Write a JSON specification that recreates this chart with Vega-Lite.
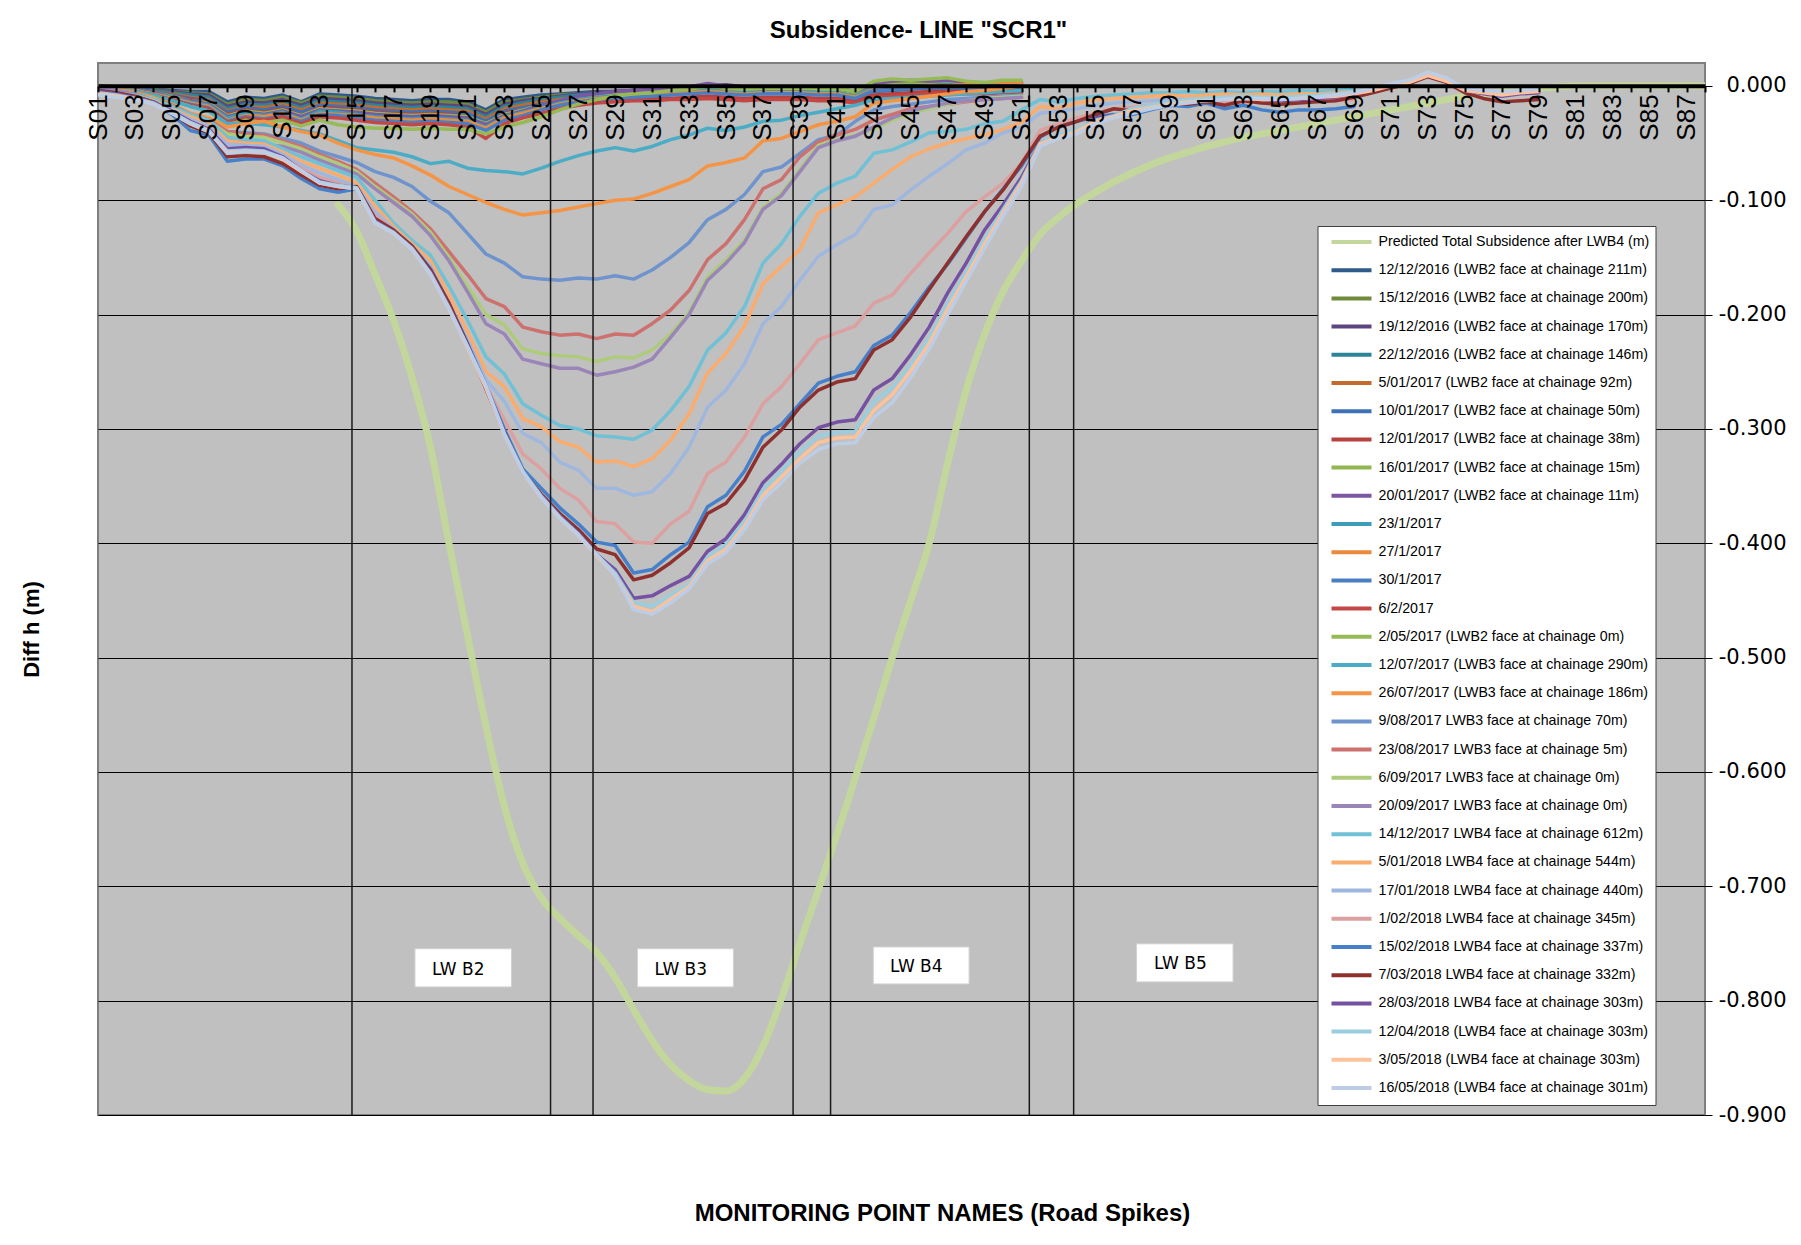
{
"$schema":"https://vega.github.io/schema/vega-lite/v6.json",
"width":1607,"height":1052,
"autosize":{"type":"none"},
"padding":{"left":98,"top":63,"right":96,"bottom":130},
"background":"white",
"config":{"view":{"fill":"#C0C0C0","stroke":"#7F7F7F","strokeWidth":2}},
"title":{"text":"Subsidence-  LINE \"SCR1\"","frame":"group","anchor":"middle","dx":17,"offset":8,"baseline":"middle","font":"Liberation Sans","fontSize":24,"fontWeight":"bold","color":"black"},
"datasets":{
"series":[
{"k":0,"p":14,"v":-0.104},{"k":0,"p":15,"v":-0.127},{"k":0,"p":16,"v":-0.165},{"k":0,"p":17,"v":-0.205},{"k":0,"p":18,"v":-0.255},{"k":0,"p":19,"v":-0.316},{"k":0,"p":20,"v":-0.4},{"k":0,"p":21,"v":-0.48},{"k":0,"p":22,"v":-0.56},{"k":0,"p":23,"v":-0.63},{"k":0,"p":24,"v":-0.68},{"k":0,"p":25,"v":-0.71},{"k":0,"p":26,"v":-0.728},{"k":0,"p":27,"v":-0.743},{"k":0,"p":28,"v":-0.758},{"k":0,"p":29,"v":-0.78},{"k":0,"p":30,"v":-0.808},{"k":0,"p":31,"v":-0.835},{"k":0,"p":32,"v":-0.856},{"k":0,"p":33,"v":-0.87},{"k":0,"p":34,"v":-0.878},{"k":0,"p":35,"v":-0.879},{"k":0,"p":36,"v":-0.868},{"k":0,"p":37,"v":-0.84},{"k":0,"p":38,"v":-0.798},{"k":0,"p":39,"v":-0.75},{"k":0,"p":40,"v":-0.703},{"k":0,"p":41,"v":-0.655},{"k":0,"p":42,"v":-0.605},{"k":0,"p":43,"v":-0.553},{"k":0,"p":44,"v":-0.5},{"k":0,"p":45,"v":-0.45},{"k":0,"p":46,"v":-0.4},{"k":0,"p":47,"v":-0.33},{"k":0,"p":48,"v":-0.266},{"k":0,"p":49,"v":-0.217},{"k":0,"p":50,"v":-0.18},{"k":0,"p":51,"v":-0.153},{"k":0,"p":52,"v":-0.13},{"k":0,"p":53,"v":-0.115},{"k":0,"p":54,"v":-0.103},{"k":0,"p":55,"v":-0.093},{"k":0,"p":56,"v":-0.084},{"k":0,"p":57,"v":-0.076},{"k":0,"p":58,"v":-0.069},{"k":0,"p":59,"v":-0.063},{"k":0,"p":60,"v":-0.058},{"k":0,"p":61,"v":-0.053},{"k":0,"p":62,"v":-0.049},{"k":0,"p":63,"v":-0.045},{"k":0,"p":64,"v":-0.042},{"k":0,"p":65,"v":-0.039},{"k":0,"p":66,"v":-0.036},{"k":0,"p":67,"v":-0.033},{"k":0,"p":68,"v":-0.03},{"k":0,"p":69,"v":-0.027},{"k":0,"p":70,"v":-0.024},{"k":0,"p":71,"v":-0.021},{"k":0,"p":72,"v":-0.018},{"k":0,"p":73,"v":-0.015},{"k":0,"p":74,"v":-0.012},{"k":0,"p":75,"v":-0.009},{"k":0,"p":76,"v":-0.007},{"k":0,"p":77,"v":-0.005},{"k":0,"p":78,"v":-0.003},{"k":0,"p":79,"v":-0.002},{"k":0,"p":80,"v":-0.001},{"k":0,"p":81,"v":0},{"k":0,"p":82,"v":0},{"k":0,"p":83,"v":0},{"k":0,"p":84,"v":0},{"k":0,"p":85,"v":0},{"k":0,"p":86,"v":0},{"k":0,"p":87,"v":0},{"k":0,"p":88,"v":0},
{"k":1,"p":1,"v":0},{"k":1,"p":2,"v":-0.001},{"k":1,"p":3,"v":-0.002},{"k":1,"p":4,"v":-0.003},{"k":1,"p":5,"v":-0.004},{"k":1,"p":6,"v":-0.005},{"k":1,"p":7,"v":-0.005},{"k":1,"p":8,"v":-0.014},{"k":1,"p":9,"v":-0.01},{"k":1,"p":10,"v":-0.011},{"k":1,"p":11,"v":-0.008},{"k":1,"p":12,"v":-0.014},{"k":1,"p":13,"v":-0.007},{"k":1,"p":14,"v":-0.008},{"k":1,"p":15,"v":-0.009},{"k":1,"p":16,"v":-0.011},{"k":1,"p":17,"v":-0.012},{"k":1,"p":18,"v":-0.013},{"k":1,"p":19,"v":-0.012},{"k":1,"p":20,"v":-0.012},{"k":1,"p":21,"v":-0.014},{"k":1,"p":22,"v":-0.021},{"k":1,"p":23,"v":-0.012},{"k":1,"p":24,"v":-0.01},{"k":1,"p":25,"v":-0.008},{"k":1,"p":26,"v":-0.007},{"k":1,"p":27,"v":-0.006},{"k":1,"p":28,"v":-0.005},{"k":1,"p":29,"v":-0.005},{"k":1,"p":30,"v":-0.004},{"k":1,"p":31,"v":-0.004},{"k":1,"p":32,"v":-0.003},{"k":1,"p":33,"v":-0.003},{"k":1,"p":34,"v":-0.002},{"k":1,"p":35,"v":-0.003},{"k":1,"p":36,"v":-0.004},{"k":1,"p":37,"v":-0.003},{"k":1,"p":38,"v":-0.003},{"k":1,"p":39,"v":-0.003},{"k":1,"p":40,"v":-0.004},{"k":1,"p":41,"v":-0.004},{"k":1,"p":42,"v":-0.006},{"k":1,"p":43,"v":-0.002},{"k":1,"p":44,"v":-0.001},{"k":1,"p":45,"v":-0.001},{"k":1,"p":46,"v":0},{"k":1,"p":47,"v":0},{"k":1,"p":48,"v":-0.001},{"k":1,"p":49,"v":0},{"k":1,"p":50,"v":0},{"k":1,"p":51,"v":0},
{"k":2,"p":1,"v":0},{"k":2,"p":2,"v":-0.001},{"k":2,"p":3,"v":-0.002},{"k":2,"p":4,"v":-0.003},{"k":2,"p":5,"v":-0.005},{"k":2,"p":6,"v":-0.006},{"k":2,"p":7,"v":-0.007},{"k":2,"p":8,"v":-0.016},{"k":2,"p":9,"v":-0.012},{"k":2,"p":10,"v":-0.013},{"k":2,"p":11,"v":-0.01},{"k":2,"p":12,"v":-0.015},{"k":2,"p":13,"v":-0.009},{"k":2,"p":14,"v":-0.01},{"k":2,"p":15,"v":-0.011},{"k":2,"p":16,"v":-0.013},{"k":2,"p":17,"v":-0.014},{"k":2,"p":18,"v":-0.015},{"k":2,"p":19,"v":-0.014},{"k":2,"p":20,"v":-0.014},{"k":2,"p":21,"v":-0.016},{"k":2,"p":22,"v":-0.023},{"k":2,"p":23,"v":-0.014},{"k":2,"p":24,"v":-0.012},{"k":2,"p":25,"v":-0.01},{"k":2,"p":26,"v":-0.008},{"k":2,"p":27,"v":-0.007},{"k":2,"p":28,"v":-0.006},{"k":2,"p":29,"v":-0.005},{"k":2,"p":30,"v":-0.005},{"k":2,"p":31,"v":-0.004},{"k":2,"p":32,"v":-0.004},{"k":2,"p":33,"v":-0.003},{"k":2,"p":34,"v":-0.002},{"k":2,"p":35,"v":-0.003},{"k":2,"p":36,"v":-0.004},{"k":2,"p":37,"v":-0.003},{"k":2,"p":38,"v":-0.003},{"k":2,"p":39,"v":-0.003},{"k":2,"p":40,"v":-0.004},{"k":2,"p":41,"v":-0.004},{"k":2,"p":42,"v":-0.007},{"k":2,"p":43,"v":-0.001},{"k":2,"p":44,"v":0},{"k":2,"p":45,"v":0},{"k":2,"p":46,"v":0.001},{"k":2,"p":47,"v":0.001},{"k":2,"p":48,"v":0},{"k":2,"p":49,"v":0},{"k":2,"p":50,"v":0.001},{"k":2,"p":51,"v":0.001},
{"k":3,"p":1,"v":-0.001},{"k":3,"p":2,"v":-0.001},{"k":3,"p":3,"v":-0.002},{"k":3,"p":4,"v":-0.004},{"k":3,"p":5,"v":-0.005},{"k":3,"p":6,"v":-0.007},{"k":3,"p":7,"v":-0.008},{"k":3,"p":8,"v":-0.018},{"k":3,"p":9,"v":-0.014},{"k":3,"p":10,"v":-0.015},{"k":3,"p":11,"v":-0.012},{"k":3,"p":12,"v":-0.017},{"k":3,"p":13,"v":-0.011},{"k":3,"p":14,"v":-0.012},{"k":3,"p":15,"v":-0.013},{"k":3,"p":16,"v":-0.015},{"k":3,"p":17,"v":-0.016},{"k":3,"p":18,"v":-0.017},{"k":3,"p":19,"v":-0.016},{"k":3,"p":20,"v":-0.017},{"k":3,"p":21,"v":-0.018},{"k":3,"p":22,"v":-0.025},{"k":3,"p":23,"v":-0.016},{"k":3,"p":24,"v":-0.013},{"k":3,"p":25,"v":-0.011},{"k":3,"p":26,"v":-0.009},{"k":3,"p":27,"v":-0.007},{"k":3,"p":28,"v":-0.006},{"k":3,"p":29,"v":-0.005},{"k":3,"p":30,"v":-0.004},{"k":3,"p":31,"v":-0.004},{"k":3,"p":32,"v":-0.003},{"k":3,"p":33,"v":-0.002},{"k":3,"p":34,"v":0},{"k":3,"p":35,"v":0.001},{"k":3,"p":36,"v":-0.001},{"k":3,"p":37,"v":-0.002},{"k":3,"p":38,"v":-0.003},{"k":3,"p":39,"v":-0.003},{"k":3,"p":40,"v":-0.004},{"k":3,"p":41,"v":-0.004},{"k":3,"p":42,"v":-0.006},{"k":3,"p":43,"v":-0.001},{"k":3,"p":44,"v":0.001},{"k":3,"p":45,"v":0.002},{"k":3,"p":46,"v":0.002},{"k":3,"p":47,"v":0.003},{"k":3,"p":48,"v":0.001},{"k":3,"p":49,"v":0.001},{"k":3,"p":50,"v":0.002},{"k":3,"p":51,"v":0.002},
{"k":4,"p":1,"v":-0.001},{"k":4,"p":2,"v":-0.002},{"k":4,"p":3,"v":-0.003},{"k":4,"p":4,"v":-0.004},{"k":4,"p":5,"v":-0.006},{"k":4,"p":6,"v":-0.008},{"k":4,"p":7,"v":-0.01},{"k":4,"p":8,"v":-0.02},{"k":4,"p":9,"v":-0.016},{"k":4,"p":10,"v":-0.017},{"k":4,"p":11,"v":-0.014},{"k":4,"p":12,"v":-0.019},{"k":4,"p":13,"v":-0.013},{"k":4,"p":14,"v":-0.014},{"k":4,"p":15,"v":-0.015},{"k":4,"p":16,"v":-0.017},{"k":4,"p":17,"v":-0.018},{"k":4,"p":18,"v":-0.019},{"k":4,"p":19,"v":-0.018},{"k":4,"p":20,"v":-0.019},{"k":4,"p":21,"v":-0.02},{"k":4,"p":22,"v":-0.027},{"k":4,"p":23,"v":-0.018},{"k":4,"p":24,"v":-0.015},{"k":4,"p":25,"v":-0.012},{"k":4,"p":26,"v":-0.01},{"k":4,"p":27,"v":-0.008},{"k":4,"p":28,"v":-0.007},{"k":4,"p":29,"v":-0.006},{"k":4,"p":30,"v":-0.006},{"k":4,"p":31,"v":-0.005},{"k":4,"p":32,"v":-0.005},{"k":4,"p":33,"v":-0.004},{"k":4,"p":34,"v":-0.003},{"k":4,"p":35,"v":-0.003},{"k":4,"p":36,"v":-0.005},{"k":4,"p":37,"v":-0.004},{"k":4,"p":38,"v":-0.004},{"k":4,"p":39,"v":-0.004},{"k":4,"p":40,"v":-0.005},{"k":4,"p":41,"v":-0.005},{"k":4,"p":42,"v":-0.008},{"k":4,"p":43,"v":-0.003},{"k":4,"p":44,"v":-0.002},{"k":4,"p":45,"v":-0.001},{"k":4,"p":46,"v":-0.001},{"k":4,"p":47,"v":0},{"k":4,"p":48,"v":-0.001},{"k":4,"p":49,"v":0},{"k":4,"p":50,"v":0},{"k":4,"p":51,"v":0},
{"k":5,"p":1,"v":-0.001},{"k":5,"p":2,"v":-0.002},{"k":5,"p":3,"v":-0.003},{"k":5,"p":4,"v":-0.005},{"k":5,"p":5,"v":-0.007},{"k":5,"p":6,"v":-0.01},{"k":5,"p":7,"v":-0.012},{"k":5,"p":8,"v":-0.022},{"k":5,"p":9,"v":-0.018},{"k":5,"p":10,"v":-0.019},{"k":5,"p":11,"v":-0.016},{"k":5,"p":12,"v":-0.021},{"k":5,"p":13,"v":-0.015},{"k":5,"p":14,"v":-0.016},{"k":5,"p":15,"v":-0.017},{"k":5,"p":16,"v":-0.019},{"k":5,"p":17,"v":-0.02},{"k":5,"p":18,"v":-0.021},{"k":5,"p":19,"v":-0.02},{"k":5,"p":20,"v":-0.021},{"k":5,"p":21,"v":-0.022},{"k":5,"p":22,"v":-0.029},{"k":5,"p":23,"v":-0.02},{"k":5,"p":24,"v":-0.017},{"k":5,"p":25,"v":-0.014},{"k":5,"p":26,"v":-0.012},{"k":5,"p":27,"v":-0.01},{"k":5,"p":28,"v":-0.009},{"k":5,"p":29,"v":-0.008},{"k":5,"p":30,"v":-0.007},{"k":5,"p":31,"v":-0.007},{"k":5,"p":32,"v":-0.006},{"k":5,"p":33,"v":-0.005},{"k":5,"p":34,"v":-0.004},{"k":5,"p":35,"v":-0.005},{"k":5,"p":36,"v":-0.006},{"k":5,"p":37,"v":-0.005},{"k":5,"p":38,"v":-0.005},{"k":5,"p":39,"v":-0.005},{"k":5,"p":40,"v":-0.006},{"k":5,"p":41,"v":-0.006},{"k":5,"p":42,"v":-0.009},{"k":5,"p":43,"v":-0.004},{"k":5,"p":44,"v":-0.003},{"k":5,"p":45,"v":-0.002},{"k":5,"p":46,"v":-0.002},{"k":5,"p":47,"v":-0.001},{"k":5,"p":48,"v":-0.002},{"k":5,"p":49,"v":-0.001},{"k":5,"p":50,"v":-0.001},{"k":5,"p":51,"v":0},
{"k":6,"p":1,"v":-0.001},{"k":6,"p":2,"v":-0.002},{"k":6,"p":3,"v":-0.003},{"k":6,"p":4,"v":-0.005},{"k":6,"p":5,"v":-0.008},{"k":6,"p":6,"v":-0.011},{"k":6,"p":7,"v":-0.013},{"k":6,"p":8,"v":-0.023},{"k":6,"p":9,"v":-0.019},{"k":6,"p":10,"v":-0.021},{"k":6,"p":11,"v":-0.018},{"k":6,"p":12,"v":-0.023},{"k":6,"p":13,"v":-0.017},{"k":6,"p":14,"v":-0.018},{"k":6,"p":15,"v":-0.019},{"k":6,"p":16,"v":-0.021},{"k":6,"p":17,"v":-0.022},{"k":6,"p":18,"v":-0.023},{"k":6,"p":19,"v":-0.022},{"k":6,"p":20,"v":-0.023},{"k":6,"p":21,"v":-0.024},{"k":6,"p":22,"v":-0.031},{"k":6,"p":23,"v":-0.022},{"k":6,"p":24,"v":-0.019},{"k":6,"p":25,"v":-0.016},{"k":6,"p":26,"v":-0.013},{"k":6,"p":27,"v":-0.011},{"k":6,"p":28,"v":-0.01},{"k":6,"p":29,"v":-0.009},{"k":6,"p":30,"v":-0.008},{"k":6,"p":31,"v":-0.008},{"k":6,"p":32,"v":-0.007},{"k":6,"p":33,"v":-0.006},{"k":6,"p":34,"v":-0.005},{"k":6,"p":35,"v":-0.006},{"k":6,"p":36,"v":-0.007},{"k":6,"p":37,"v":-0.006},{"k":6,"p":38,"v":-0.006},{"k":6,"p":39,"v":-0.006},{"k":6,"p":40,"v":-0.007},{"k":6,"p":41,"v":-0.007},{"k":6,"p":42,"v":-0.01},{"k":6,"p":43,"v":-0.005},{"k":6,"p":44,"v":-0.004},{"k":6,"p":45,"v":-0.003},{"k":6,"p":46,"v":-0.002},{"k":6,"p":47,"v":-0.002},{"k":6,"p":48,"v":-0.003},{"k":6,"p":49,"v":-0.002},{"k":6,"p":50,"v":-0.001},{"k":6,"p":51,"v":-0.001},
{"k":7,"p":1,"v":-0.001},{"k":7,"p":2,"v":-0.002},{"k":7,"p":3,"v":-0.004},{"k":7,"p":4,"v":-0.006},{"k":7,"p":5,"v":-0.009},{"k":7,"p":6,"v":-0.012},{"k":7,"p":7,"v":-0.015},{"k":7,"p":8,"v":-0.025},{"k":7,"p":9,"v":-0.021},{"k":7,"p":10,"v":-0.023},{"k":7,"p":11,"v":-0.02},{"k":7,"p":12,"v":-0.026},{"k":7,"p":13,"v":-0.019},{"k":7,"p":14,"v":-0.02},{"k":7,"p":15,"v":-0.021},{"k":7,"p":16,"v":-0.023},{"k":7,"p":17,"v":-0.024},{"k":7,"p":18,"v":-0.025},{"k":7,"p":19,"v":-0.024},{"k":7,"p":20,"v":-0.025},{"k":7,"p":21,"v":-0.027},{"k":7,"p":22,"v":-0.036},{"k":7,"p":23,"v":-0.024},{"k":7,"p":24,"v":-0.021},{"k":7,"p":25,"v":-0.018},{"k":7,"p":26,"v":-0.016},{"k":7,"p":27,"v":-0.014},{"k":7,"p":28,"v":-0.013},{"k":7,"p":29,"v":-0.012},{"k":7,"p":30,"v":-0.012},{"k":7,"p":31,"v":-0.011},{"k":7,"p":32,"v":-0.011},{"k":7,"p":33,"v":-0.01},{"k":7,"p":34,"v":-0.009},{"k":7,"p":35,"v":-0.01},{"k":7,"p":36,"v":-0.011},{"k":7,"p":37,"v":-0.01},{"k":7,"p":38,"v":-0.01},{"k":7,"p":39,"v":-0.01},{"k":7,"p":40,"v":-0.011},{"k":7,"p":41,"v":-0.011},{"k":7,"p":42,"v":-0.013},{"k":7,"p":43,"v":-0.008},{"k":7,"p":44,"v":-0.007},{"k":7,"p":45,"v":-0.006},{"k":7,"p":46,"v":-0.005},{"k":7,"p":47,"v":-0.005},{"k":7,"p":48,"v":-0.005},{"k":7,"p":49,"v":-0.005},{"k":7,"p":50,"v":-0.004},{"k":7,"p":51,"v":-0.004},
{"k":8,"p":1,"v":-0.001},{"k":8,"p":2,"v":-0.002},{"k":8,"p":3,"v":-0.004},{"k":8,"p":4,"v":-0.006},{"k":8,"p":5,"v":-0.009},{"k":8,"p":6,"v":-0.013},{"k":8,"p":7,"v":-0.015},{"k":8,"p":8,"v":-0.026},{"k":8,"p":9,"v":-0.022},{"k":8,"p":10,"v":-0.024},{"k":8,"p":11,"v":-0.021},{"k":8,"p":12,"v":-0.026},{"k":8,"p":13,"v":-0.02},{"k":8,"p":14,"v":-0.021},{"k":8,"p":15,"v":-0.022},{"k":8,"p":16,"v":-0.024},{"k":8,"p":17,"v":-0.025},{"k":8,"p":18,"v":-0.026},{"k":8,"p":19,"v":-0.025},{"k":8,"p":20,"v":-0.026},{"k":8,"p":21,"v":-0.027},{"k":8,"p":22,"v":-0.033},{"k":8,"p":23,"v":-0.025},{"k":8,"p":24,"v":-0.021},{"k":8,"p":25,"v":-0.017},{"k":8,"p":26,"v":-0.013},{"k":8,"p":27,"v":-0.01},{"k":8,"p":28,"v":-0.008},{"k":8,"p":29,"v":-0.006},{"k":8,"p":30,"v":-0.005},{"k":8,"p":31,"v":-0.004},{"k":8,"p":32,"v":-0.003},{"k":8,"p":33,"v":-0.002},{"k":8,"p":34,"v":-0.001},{"k":8,"p":35,"v":-0.002},{"k":8,"p":36,"v":-0.003},{"k":8,"p":37,"v":-0.002},{"k":8,"p":38,"v":-0.002},{"k":8,"p":39,"v":-0.002},{"k":8,"p":40,"v":-0.003},{"k":8,"p":41,"v":-0.003},{"k":8,"p":42,"v":-0.006},{"k":8,"p":43,"v":0.001},{"k":8,"p":44,"v":0.002},{"k":8,"p":45,"v":0.003},{"k":8,"p":46,"v":0.003},{"k":8,"p":47,"v":0.004},{"k":8,"p":48,"v":0.002},{"k":8,"p":49,"v":0.002},{"k":8,"p":50,"v":0.003},{"k":8,"p":51,"v":0.003},
{"k":9,"p":1,"v":-0.001},{"k":9,"p":2,"v":-0.002},{"k":9,"p":3,"v":-0.004},{"k":9,"p":4,"v":-0.006},{"k":9,"p":5,"v":-0.01},{"k":9,"p":6,"v":-0.013},{"k":9,"p":7,"v":-0.016},{"k":9,"p":8,"v":-0.027},{"k":9,"p":9,"v":-0.023},{"k":9,"p":10,"v":-0.025},{"k":9,"p":11,"v":-0.022},{"k":9,"p":12,"v":-0.027},{"k":9,"p":13,"v":-0.021},{"k":9,"p":14,"v":-0.022},{"k":9,"p":15,"v":-0.023},{"k":9,"p":16,"v":-0.025},{"k":9,"p":17,"v":-0.026},{"k":9,"p":18,"v":-0.027},{"k":9,"p":19,"v":-0.026},{"k":9,"p":20,"v":-0.027},{"k":9,"p":21,"v":-0.028},{"k":9,"p":22,"v":-0.034},{"k":9,"p":23,"v":-0.026},{"k":9,"p":24,"v":-0.022},{"k":9,"p":25,"v":-0.017},{"k":9,"p":26,"v":-0.013},{"k":9,"p":27,"v":-0.009},{"k":9,"p":28,"v":-0.007},{"k":9,"p":29,"v":-0.005},{"k":9,"p":30,"v":-0.004},{"k":9,"p":31,"v":-0.003},{"k":9,"p":32,"v":-0.002},{"k":9,"p":33,"v":-0.001},{"k":9,"p":34,"v":0.002},{"k":9,"p":35,"v":0},{"k":9,"p":36,"v":-0.002},{"k":9,"p":37,"v":-0.001},{"k":9,"p":38,"v":-0.001},{"k":9,"p":39,"v":-0.001},{"k":9,"p":40,"v":-0.002},{"k":9,"p":41,"v":-0.002},{"k":9,"p":42,"v":-0.005},{"k":9,"p":43,"v":0.002},{"k":9,"p":44,"v":0.004},{"k":9,"p":45,"v":0.005},{"k":9,"p":46,"v":0.004},{"k":9,"p":47,"v":0.005},{"k":9,"p":48,"v":0.003},{"k":9,"p":49,"v":0.002},{"k":9,"p":50,"v":0.003},{"k":9,"p":51,"v":0.003},
{"k":10,"p":1,"v":-0.001},{"k":10,"p":2,"v":-0.002},{"k":10,"p":3,"v":-0.004},{"k":10,"p":4,"v":-0.007},{"k":10,"p":5,"v":-0.01},{"k":10,"p":6,"v":-0.014},{"k":10,"p":7,"v":-0.017},{"k":10,"p":8,"v":-0.028},{"k":10,"p":9,"v":-0.024},{"k":10,"p":10,"v":-0.026},{"k":10,"p":11,"v":-0.023},{"k":10,"p":12,"v":-0.029},{"k":10,"p":13,"v":-0.022},{"k":10,"p":14,"v":-0.023},{"k":10,"p":15,"v":-0.025},{"k":10,"p":16,"v":-0.027},{"k":10,"p":17,"v":-0.028},{"k":10,"p":18,"v":-0.029},{"k":10,"p":19,"v":-0.028},{"k":10,"p":20,"v":-0.029},{"k":10,"p":21,"v":-0.03},{"k":10,"p":22,"v":-0.036},{"k":10,"p":23,"v":-0.027},{"k":10,"p":24,"v":-0.023},{"k":10,"p":25,"v":-0.019},{"k":10,"p":26,"v":-0.015},{"k":10,"p":27,"v":-0.012},{"k":10,"p":28,"v":-0.01},{"k":10,"p":29,"v":-0.009},{"k":10,"p":30,"v":-0.008},{"k":10,"p":31,"v":-0.007},{"k":10,"p":32,"v":-0.006},{"k":10,"p":33,"v":-0.005},{"k":10,"p":34,"v":-0.004},{"k":10,"p":35,"v":-0.005},{"k":10,"p":36,"v":-0.006},{"k":10,"p":37,"v":-0.005},{"k":10,"p":38,"v":-0.005},{"k":10,"p":39,"v":-0.005},{"k":10,"p":40,"v":-0.006},{"k":10,"p":41,"v":-0.006},{"k":10,"p":42,"v":-0.009},{"k":10,"p":43,"v":-0.002},{"k":10,"p":44,"v":-0.001},{"k":10,"p":45,"v":0},{"k":10,"p":46,"v":0},{"k":10,"p":47,"v":0.001},{"k":10,"p":48,"v":0},{"k":10,"p":49,"v":0},{"k":10,"p":50,"v":0.001},{"k":10,"p":51,"v":0.001},
{"k":11,"p":1,"v":-0.001},{"k":11,"p":2,"v":-0.002},{"k":11,"p":3,"v":-0.004},{"k":11,"p":4,"v":-0.007},{"k":11,"p":5,"v":-0.011},{"k":11,"p":6,"v":-0.015},{"k":11,"p":7,"v":-0.018},{"k":11,"p":8,"v":-0.03},{"k":11,"p":9,"v":-0.026},{"k":11,"p":10,"v":-0.027},{"k":11,"p":11,"v":-0.024},{"k":11,"p":12,"v":-0.03},{"k":11,"p":13,"v":-0.024},{"k":11,"p":14,"v":-0.025},{"k":11,"p":15,"v":-0.026},{"k":11,"p":16,"v":-0.028},{"k":11,"p":17,"v":-0.029},{"k":11,"p":18,"v":-0.03},{"k":11,"p":19,"v":-0.029},{"k":11,"p":20,"v":-0.03},{"k":11,"p":21,"v":-0.031},{"k":11,"p":22,"v":-0.037},{"k":11,"p":23,"v":-0.028},{"k":11,"p":24,"v":-0.024},{"k":11,"p":25,"v":-0.02},{"k":11,"p":26,"v":-0.016},{"k":11,"p":27,"v":-0.013},{"k":11,"p":28,"v":-0.011},{"k":11,"p":29,"v":-0.01},{"k":11,"p":30,"v":-0.009},{"k":11,"p":31,"v":-0.008},{"k":11,"p":32,"v":-0.007},{"k":11,"p":33,"v":-0.006},{"k":11,"p":34,"v":-0.005},{"k":11,"p":35,"v":-0.006},{"k":11,"p":36,"v":-0.007},{"k":11,"p":37,"v":-0.006},{"k":11,"p":38,"v":-0.006},{"k":11,"p":39,"v":-0.006},{"k":11,"p":40,"v":-0.007},{"k":11,"p":41,"v":-0.007},{"k":11,"p":42,"v":-0.01},{"k":11,"p":43,"v":-0.003},{"k":11,"p":44,"v":-0.002},{"k":11,"p":45,"v":-0.001},{"k":11,"p":46,"v":0},{"k":11,"p":47,"v":0},{"k":11,"p":48,"v":0.001},{"k":11,"p":49,"v":0.001},{"k":11,"p":50,"v":0.002},{"k":11,"p":51,"v":0.002},
{"k":12,"p":1,"v":-0.001},{"k":12,"p":2,"v":-0.003},{"k":12,"p":3,"v":-0.005},{"k":12,"p":4,"v":-0.008},{"k":12,"p":5,"v":-0.012},{"k":12,"p":6,"v":-0.016},{"k":12,"p":7,"v":-0.019},{"k":12,"p":8,"v":-0.031},{"k":12,"p":9,"v":-0.027},{"k":12,"p":10,"v":-0.029},{"k":12,"p":11,"v":-0.026},{"k":12,"p":12,"v":-0.031},{"k":12,"p":13,"v":-0.025},{"k":12,"p":14,"v":-0.026},{"k":12,"p":15,"v":-0.028},{"k":12,"p":16,"v":-0.03},{"k":12,"p":17,"v":-0.031},{"k":12,"p":18,"v":-0.032},{"k":12,"p":19,"v":-0.031},{"k":12,"p":20,"v":-0.032},{"k":12,"p":21,"v":-0.033},{"k":12,"p":22,"v":-0.039},{"k":12,"p":23,"v":-0.03},{"k":12,"p":24,"v":-0.026},{"k":12,"p":25,"v":-0.021},{"k":12,"p":26,"v":-0.017},{"k":12,"p":27,"v":-0.014},{"k":12,"p":28,"v":-0.012},{"k":12,"p":29,"v":-0.011},{"k":12,"p":30,"v":-0.01},{"k":12,"p":31,"v":-0.009},{"k":12,"p":32,"v":-0.008},{"k":12,"p":33,"v":-0.007},{"k":12,"p":34,"v":-0.006},{"k":12,"p":35,"v":-0.007},{"k":12,"p":36,"v":-0.008},{"k":12,"p":37,"v":-0.007},{"k":12,"p":38,"v":-0.007},{"k":12,"p":39,"v":-0.007},{"k":12,"p":40,"v":-0.008},{"k":12,"p":41,"v":-0.008},{"k":12,"p":42,"v":-0.011},{"k":12,"p":43,"v":-0.004},{"k":12,"p":44,"v":-0.003},{"k":12,"p":45,"v":-0.002},{"k":12,"p":46,"v":-0.001},{"k":12,"p":47,"v":-0.001},{"k":12,"p":48,"v":-0.001},{"k":12,"p":49,"v":0},{"k":12,"p":50,"v":0},{"k":12,"p":51,"v":0},
{"k":13,"p":1,"v":-0.001},{"k":13,"p":2,"v":-0.003},{"k":13,"p":3,"v":-0.005},{"k":13,"p":4,"v":-0.008},{"k":13,"p":5,"v":-0.012},{"k":13,"p":6,"v":-0.017},{"k":13,"p":7,"v":-0.02},{"k":13,"p":8,"v":-0.032},{"k":13,"p":9,"v":-0.028},{"k":13,"p":10,"v":-0.03},{"k":13,"p":11,"v":-0.027},{"k":13,"p":12,"v":-0.033},{"k":13,"p":13,"v":-0.027},{"k":13,"p":14,"v":-0.028},{"k":13,"p":15,"v":-0.03},{"k":13,"p":16,"v":-0.032},{"k":13,"p":17,"v":-0.033},{"k":13,"p":18,"v":-0.034},{"k":13,"p":19,"v":-0.033},{"k":13,"p":20,"v":-0.034},{"k":13,"p":21,"v":-0.036},{"k":13,"p":22,"v":-0.046},{"k":13,"p":23,"v":-0.033},{"k":13,"p":24,"v":-0.028},{"k":13,"p":25,"v":-0.024},{"k":13,"p":26,"v":-0.02},{"k":13,"p":27,"v":-0.017},{"k":13,"p":28,"v":-0.015},{"k":13,"p":29,"v":-0.014},{"k":13,"p":30,"v":-0.013},{"k":13,"p":31,"v":-0.013},{"k":13,"p":32,"v":-0.012},{"k":13,"p":33,"v":-0.012},{"k":13,"p":34,"v":-0.011},{"k":13,"p":35,"v":-0.012},{"k":13,"p":36,"v":-0.013},{"k":13,"p":37,"v":-0.012},{"k":13,"p":38,"v":-0.012},{"k":13,"p":39,"v":-0.012},{"k":13,"p":40,"v":-0.013},{"k":13,"p":41,"v":-0.013},{"k":13,"p":42,"v":-0.015},{"k":13,"p":43,"v":-0.01},{"k":13,"p":44,"v":-0.009},{"k":13,"p":45,"v":-0.008},{"k":13,"p":46,"v":-0.007},{"k":13,"p":47,"v":-0.007},{"k":13,"p":48,"v":-0.007},{"k":13,"p":49,"v":-0.007},{"k":13,"p":50,"v":-0.006},{"k":13,"p":51,"v":-0.006},
{"k":14,"p":1,"v":-0.001},{"k":14,"p":2,"v":-0.003},{"k":14,"p":3,"v":-0.005},{"k":14,"p":4,"v":-0.009},{"k":14,"p":5,"v":-0.013},{"k":14,"p":6,"v":-0.018},{"k":14,"p":7,"v":-0.022},{"k":14,"p":8,"v":-0.034},{"k":14,"p":9,"v":-0.03},{"k":14,"p":10,"v":-0.032},{"k":14,"p":11,"v":-0.03},{"k":14,"p":12,"v":-0.035},{"k":14,"p":13,"v":-0.03},{"k":14,"p":14,"v":-0.034},{"k":14,"p":15,"v":-0.036},{"k":14,"p":16,"v":-0.037},{"k":14,"p":17,"v":-0.037},{"k":14,"p":18,"v":-0.038},{"k":14,"p":19,"v":-0.037},{"k":14,"p":20,"v":-0.038},{"k":14,"p":21,"v":-0.038},{"k":14,"p":22,"v":-0.042},{"k":14,"p":23,"v":-0.036},{"k":14,"p":24,"v":-0.032},{"k":14,"p":25,"v":-0.027},{"k":14,"p":26,"v":-0.021},{"k":14,"p":27,"v":-0.016},{"k":14,"p":28,"v":-0.012},{"k":14,"p":29,"v":-0.009},{"k":14,"p":30,"v":-0.007},{"k":14,"p":31,"v":-0.006},{"k":14,"p":32,"v":-0.004},{"k":14,"p":33,"v":-0.003},{"k":14,"p":34,"v":0},{"k":14,"p":35,"v":-0.002},{"k":14,"p":36,"v":-0.003},{"k":14,"p":37,"v":-0.002},{"k":14,"p":38,"v":-0.002},{"k":14,"p":39,"v":-0.002},{"k":14,"p":40,"v":-0.002},{"k":14,"p":41,"v":-0.002},{"k":14,"p":42,"v":-0.005},{"k":14,"p":43,"v":0.004},{"k":14,"p":44,"v":0.006},{"k":14,"p":45,"v":0.005},{"k":14,"p":46,"v":0.006},{"k":14,"p":47,"v":0.007},{"k":14,"p":48,"v":0.004},{"k":14,"p":49,"v":0.003},{"k":14,"p":50,"v":0.005},{"k":14,"p":51,"v":0.005},
{"k":15,"p":1,"v":-0.002},{"k":15,"p":2,"v":-0.003},{"k":15,"p":3,"v":-0.005},{"k":15,"p":4,"v":-0.008},{"k":15,"p":5,"v":-0.013},{"k":15,"p":6,"v":-0.018},{"k":15,"p":7,"v":-0.022},{"k":15,"p":8,"v":-0.033},{"k":15,"p":9,"v":-0.033},{"k":15,"p":10,"v":-0.034},{"k":15,"p":11,"v":-0.036},{"k":15,"p":12,"v":-0.039},{"k":15,"p":13,"v":-0.042},{"k":15,"p":14,"v":-0.048},{"k":15,"p":15,"v":-0.054},{"k":15,"p":16,"v":-0.056},{"k":15,"p":17,"v":-0.058},{"k":15,"p":18,"v":-0.062},{"k":15,"p":19,"v":-0.068},{"k":15,"p":20,"v":-0.066},{"k":15,"p":21,"v":-0.072},{"k":15,"p":22,"v":-0.074},{"k":15,"p":23,"v":-0.075},{"k":15,"p":24,"v":-0.077},{"k":15,"p":25,"v":-0.072},{"k":15,"p":26,"v":-0.066},{"k":15,"p":27,"v":-0.061},{"k":15,"p":28,"v":-0.057},{"k":15,"p":29,"v":-0.054},{"k":15,"p":30,"v":-0.057},{"k":15,"p":31,"v":-0.053},{"k":15,"p":32,"v":-0.047},{"k":15,"p":33,"v":-0.043},{"k":15,"p":34,"v":-0.037},{"k":15,"p":35,"v":-0.039},{"k":15,"p":36,"v":-0.036},{"k":15,"p":37,"v":-0.031},{"k":15,"p":38,"v":-0.03},{"k":15,"p":39,"v":-0.026},{"k":15,"p":40,"v":-0.023},{"k":15,"p":41,"v":-0.02},{"k":15,"p":42,"v":-0.017},{"k":15,"p":43,"v":-0.012},{"k":15,"p":44,"v":-0.011},{"k":15,"p":45,"v":-0.01},{"k":15,"p":46,"v":-0.009},{"k":15,"p":47,"v":-0.008},{"k":15,"p":48,"v":-0.007},{"k":15,"p":49,"v":-0.006},{"k":15,"p":50,"v":-0.005},{"k":15,"p":51,"v":-0.004},
{"k":16,"p":1,"v":-0.002},{"k":16,"p":2,"v":-0.003},{"k":16,"p":3,"v":-0.006},{"k":16,"p":4,"v":-0.01},{"k":16,"p":5,"v":-0.016},{"k":16,"p":6,"v":-0.024},{"k":16,"p":7,"v":-0.028},{"k":16,"p":8,"v":-0.036},{"k":16,"p":9,"v":-0.033},{"k":16,"p":10,"v":-0.031},{"k":16,"p":11,"v":-0.036},{"k":16,"p":12,"v":-0.04},{"k":16,"p":13,"v":-0.043},{"k":16,"p":14,"v":-0.05},{"k":16,"p":15,"v":-0.056},{"k":16,"p":16,"v":-0.06},{"k":16,"p":17,"v":-0.063},{"k":16,"p":18,"v":-0.07},{"k":16,"p":19,"v":-0.078},{"k":16,"p":20,"v":-0.088},{"k":16,"p":21,"v":-0.095},{"k":16,"p":22,"v":-0.102},{"k":16,"p":23,"v":-0.108},{"k":16,"p":24,"v":-0.113},{"k":16,"p":25,"v":-0.111},{"k":16,"p":26,"v":-0.109},{"k":16,"p":27,"v":-0.106},{"k":16,"p":28,"v":-0.103},{"k":16,"p":29,"v":-0.1},{"k":16,"p":30,"v":-0.099},{"k":16,"p":31,"v":-0.094},{"k":16,"p":32,"v":-0.088},{"k":16,"p":33,"v":-0.082},{"k":16,"p":34,"v":-0.07},{"k":16,"p":35,"v":-0.067},{"k":16,"p":36,"v":-0.063},{"k":16,"p":37,"v":-0.048},{"k":16,"p":38,"v":-0.046},{"k":16,"p":39,"v":-0.04},{"k":16,"p":40,"v":-0.034},{"k":16,"p":41,"v":-0.031},{"k":16,"p":42,"v":-0.027},{"k":16,"p":43,"v":-0.015},{"k":16,"p":44,"v":-0.013},{"k":16,"p":45,"v":-0.011},{"k":16,"p":46,"v":-0.009},{"k":16,"p":47,"v":-0.007},{"k":16,"p":48,"v":-0.005},{"k":16,"p":49,"v":-0.004},{"k":16,"p":50,"v":-0.002},{"k":16,"p":51,"v":0},
{"k":17,"p":1,"v":-0.002},{"k":17,"p":2,"v":-0.004},{"k":17,"p":3,"v":-0.007},{"k":17,"p":4,"v":-0.011},{"k":17,"p":5,"v":-0.017},{"k":17,"p":6,"v":-0.025},{"k":17,"p":7,"v":-0.03},{"k":17,"p":8,"v":-0.04},{"k":17,"p":9,"v":-0.041},{"k":17,"p":10,"v":-0.042},{"k":17,"p":11,"v":-0.046},{"k":17,"p":12,"v":-0.05},{"k":17,"p":13,"v":-0.057},{"k":17,"p":14,"v":-0.062},{"k":17,"p":15,"v":-0.067},{"k":17,"p":16,"v":-0.075},{"k":17,"p":17,"v":-0.08},{"k":17,"p":18,"v":-0.088},{"k":17,"p":19,"v":-0.101},{"k":17,"p":20,"v":-0.111},{"k":17,"p":21,"v":-0.129},{"k":17,"p":22,"v":-0.147},{"k":17,"p":23,"v":-0.155},{"k":17,"p":24,"v":-0.167},{"k":17,"p":25,"v":-0.169},{"k":17,"p":26,"v":-0.17},{"k":17,"p":27,"v":-0.168},{"k":17,"p":28,"v":-0.169},{"k":17,"p":29,"v":-0.166},{"k":17,"p":30,"v":-0.169},{"k":17,"p":31,"v":-0.161},{"k":17,"p":32,"v":-0.15},{"k":17,"p":33,"v":-0.137},{"k":17,"p":34,"v":-0.117},{"k":17,"p":35,"v":-0.108},{"k":17,"p":36,"v":-0.095},{"k":17,"p":37,"v":-0.075},{"k":17,"p":38,"v":-0.071},{"k":17,"p":39,"v":-0.059},{"k":17,"p":40,"v":-0.047},{"k":17,"p":41,"v":-0.043},{"k":17,"p":42,"v":-0.031},{"k":17,"p":43,"v":-0.021},{"k":17,"p":44,"v":-0.018},{"k":17,"p":45,"v":-0.016},{"k":17,"p":46,"v":-0.014},{"k":17,"p":47,"v":-0.012},{"k":17,"p":48,"v":-0.011},{"k":17,"p":49,"v":-0.01},{"k":17,"p":50,"v":-0.009},{"k":17,"p":51,"v":-0.008},
{"k":18,"p":1,"v":-0.002},{"k":18,"p":2,"v":-0.004},{"k":18,"p":3,"v":-0.007},{"k":18,"p":4,"v":-0.011},{"k":18,"p":5,"v":-0.017},{"k":18,"p":6,"v":-0.025},{"k":18,"p":7,"v":-0.03},{"k":18,"p":8,"v":-0.04},{"k":18,"p":9,"v":-0.042},{"k":18,"p":10,"v":-0.043},{"k":18,"p":11,"v":-0.048},{"k":18,"p":12,"v":-0.053},{"k":18,"p":13,"v":-0.06},{"k":18,"p":14,"v":-0.066},{"k":18,"p":15,"v":-0.073},{"k":18,"p":16,"v":-0.085},{"k":18,"p":17,"v":-0.097},{"k":18,"p":18,"v":-0.11},{"k":18,"p":19,"v":-0.125},{"k":18,"p":20,"v":-0.145},{"k":18,"p":21,"v":-0.165},{"k":18,"p":22,"v":-0.186},{"k":18,"p":23,"v":-0.193},{"k":18,"p":24,"v":-0.211},{"k":18,"p":25,"v":-0.215},{"k":18,"p":26,"v":-0.218},{"k":18,"p":27,"v":-0.217},{"k":18,"p":28,"v":-0.221},{"k":18,"p":29,"v":-0.217},{"k":18,"p":30,"v":-0.218},{"k":18,"p":31,"v":-0.208},{"k":18,"p":32,"v":-0.196},{"k":18,"p":33,"v":-0.179},{"k":18,"p":34,"v":-0.152},{"k":18,"p":35,"v":-0.138},{"k":18,"p":36,"v":-0.117},{"k":18,"p":37,"v":-0.09},{"k":18,"p":38,"v":-0.082},{"k":18,"p":39,"v":-0.062},{"k":18,"p":40,"v":-0.049},{"k":18,"p":41,"v":-0.043},{"k":18,"p":42,"v":-0.038},{"k":18,"p":43,"v":-0.03},{"k":18,"p":44,"v":-0.025},{"k":18,"p":45,"v":-0.02},{"k":18,"p":46,"v":-0.018},{"k":18,"p":47,"v":-0.016},{"k":18,"p":48,"v":-0.014},{"k":18,"p":49,"v":-0.012},{"k":18,"p":50,"v":-0.011},{"k":18,"p":51,"v":-0.01},
{"k":19,"p":1,"v":-0.002},{"k":19,"p":2,"v":-0.004},{"k":19,"p":3,"v":-0.007},{"k":19,"p":4,"v":-0.011},{"k":19,"p":5,"v":-0.018},{"k":19,"p":6,"v":-0.026},{"k":19,"p":7,"v":-0.031},{"k":19,"p":8,"v":-0.042},{"k":19,"p":9,"v":-0.044},{"k":19,"p":10,"v":-0.045},{"k":19,"p":11,"v":-0.05},{"k":19,"p":12,"v":-0.055},{"k":19,"p":13,"v":-0.062},{"k":19,"p":14,"v":-0.068},{"k":19,"p":15,"v":-0.075},{"k":19,"p":16,"v":-0.088},{"k":19,"p":17,"v":-0.1},{"k":19,"p":18,"v":-0.112},{"k":19,"p":19,"v":-0.128},{"k":19,"p":20,"v":-0.15},{"k":19,"p":21,"v":-0.175},{"k":19,"p":22,"v":-0.2},{"k":19,"p":23,"v":-0.209},{"k":19,"p":24,"v":-0.23},{"k":19,"p":25,"v":-0.234},{"k":19,"p":26,"v":-0.236},{"k":19,"p":27,"v":-0.237},{"k":19,"p":28,"v":-0.241},{"k":19,"p":29,"v":-0.237},{"k":19,"p":30,"v":-0.238},{"k":19,"p":31,"v":-0.231},{"k":19,"p":32,"v":-0.217},{"k":19,"p":33,"v":-0.198},{"k":19,"p":34,"v":-0.167},{"k":19,"p":35,"v":-0.152},{"k":19,"p":36,"v":-0.135},{"k":19,"p":37,"v":-0.106},{"k":19,"p":38,"v":-0.094},{"k":19,"p":39,"v":-0.073},{"k":19,"p":40,"v":-0.052},{"k":19,"p":41,"v":-0.047},{"k":19,"p":42,"v":-0.043},{"k":19,"p":43,"v":-0.038},{"k":19,"p":44,"v":-0.03},{"k":19,"p":45,"v":-0.024},{"k":19,"p":46,"v":-0.02},{"k":19,"p":47,"v":-0.016},{"k":19,"p":48,"v":-0.013},{"k":19,"p":49,"v":-0.011},{"k":19,"p":50,"v":-0.01},{"k":19,"p":51,"v":-0.009},
{"k":20,"p":1,"v":-0.002},{"k":20,"p":2,"v":-0.004},{"k":20,"p":3,"v":-0.007},{"k":20,"p":4,"v":-0.012},{"k":20,"p":5,"v":-0.018},{"k":20,"p":6,"v":-0.027},{"k":20,"p":7,"v":-0.032},{"k":20,"p":8,"v":-0.045},{"k":20,"p":9,"v":-0.05},{"k":20,"p":10,"v":-0.051},{"k":20,"p":11,"v":-0.053},{"k":20,"p":12,"v":-0.058},{"k":20,"p":13,"v":-0.065},{"k":20,"p":14,"v":-0.071},{"k":20,"p":15,"v":-0.077},{"k":20,"p":16,"v":-0.09},{"k":20,"p":17,"v":-0.102},{"k":20,"p":18,"v":-0.114},{"k":20,"p":19,"v":-0.131},{"k":20,"p":20,"v":-0.153},{"k":20,"p":21,"v":-0.18},{"k":20,"p":22,"v":-0.208},{"k":20,"p":23,"v":-0.217},{"k":20,"p":24,"v":-0.239},{"k":20,"p":25,"v":-0.243},{"k":20,"p":26,"v":-0.247},{"k":20,"p":27,"v":-0.247},{"k":20,"p":28,"v":-0.253},{"k":20,"p":29,"v":-0.25},{"k":20,"p":30,"v":-0.246},{"k":20,"p":31,"v":-0.239},{"k":20,"p":32,"v":-0.22},{"k":20,"p":33,"v":-0.2},{"k":20,"p":34,"v":-0.17},{"k":20,"p":35,"v":-0.155},{"k":20,"p":36,"v":-0.137},{"k":20,"p":37,"v":-0.108},{"k":20,"p":38,"v":-0.096},{"k":20,"p":39,"v":-0.075},{"k":20,"p":40,"v":-0.054},{"k":20,"p":41,"v":-0.048},{"k":20,"p":42,"v":-0.044},{"k":20,"p":43,"v":-0.036},{"k":20,"p":44,"v":-0.028},{"k":20,"p":45,"v":-0.022},{"k":20,"p":46,"v":-0.018},{"k":20,"p":47,"v":-0.015},{"k":20,"p":48,"v":-0.013},{"k":20,"p":49,"v":-0.012},{"k":20,"p":50,"v":-0.011},{"k":20,"p":51,"v":-0.01},
{"k":21,"p":1,"v":-0.004},{"k":21,"p":2,"v":-0.006},{"k":21,"p":3,"v":-0.008},{"k":21,"p":4,"v":-0.012},{"k":21,"p":5,"v":-0.018},{"k":21,"p":6,"v":-0.025},{"k":21,"p":7,"v":-0.03},{"k":21,"p":8,"v":-0.045},{"k":21,"p":9,"v":-0.047},{"k":21,"p":10,"v":-0.048},{"k":21,"p":11,"v":-0.055},{"k":21,"p":12,"v":-0.062},{"k":21,"p":13,"v":-0.068},{"k":21,"p":14,"v":-0.074},{"k":21,"p":15,"v":-0.08},{"k":21,"p":16,"v":-0.1},{"k":21,"p":17,"v":-0.12},{"k":21,"p":18,"v":-0.135},{"k":21,"p":19,"v":-0.148},{"k":21,"p":20,"v":-0.175},{"k":21,"p":21,"v":-0.205},{"k":21,"p":22,"v":-0.237},{"k":21,"p":23,"v":-0.252},{"k":21,"p":24,"v":-0.278},{"k":21,"p":25,"v":-0.288},{"k":21,"p":26,"v":-0.297},{"k":21,"p":27,"v":-0.3},{"k":21,"p":28,"v":-0.306},{"k":21,"p":29,"v":-0.307},{"k":21,"p":30,"v":-0.309},{"k":21,"p":31,"v":-0.301},{"k":21,"p":32,"v":-0.284},{"k":21,"p":33,"v":-0.263},{"k":21,"p":34,"v":-0.231},{"k":21,"p":35,"v":-0.216},{"k":21,"p":36,"v":-0.193},{"k":21,"p":37,"v":-0.155},{"k":21,"p":38,"v":-0.138},{"k":21,"p":39,"v":-0.114},{"k":21,"p":40,"v":-0.094},{"k":21,"p":41,"v":-0.085},{"k":21,"p":42,"v":-0.079},{"k":21,"p":43,"v":-0.059},{"k":21,"p":44,"v":-0.056},{"k":21,"p":45,"v":-0.049},{"k":21,"p":46,"v":-0.041},{"k":21,"p":47,"v":-0.04},{"k":21,"p":48,"v":-0.038},{"k":21,"p":49,"v":-0.033},{"k":21,"p":50,"v":-0.031},{"k":21,"p":51,"v":-0.021},{"k":21,"p":52,"v":-0.012},{"k":21,"p":53,"v":-0.014},{"k":21,"p":54,"v":-0.011},{"k":21,"p":55,"v":-0.009},{"k":21,"p":56,"v":-0.008},{"k":21,"p":57,"v":-0.007},{"k":21,"p":58,"v":-0.006},{"k":21,"p":59,"v":-0.006},{"k":21,"p":60,"v":-0.005},{"k":21,"p":61,"v":-0.006},{"k":21,"p":62,"v":-0.005},{"k":21,"p":63,"v":-0.006},{"k":21,"p":64,"v":-0.005},{"k":21,"p":65,"v":-0.005},{"k":21,"p":66,"v":-0.004},{"k":21,"p":67,"v":-0.005},{"k":21,"p":68,"v":-0.004},{"k":21,"p":69,"v":-0.003},
{"k":22,"p":1,"v":-0.005},{"k":22,"p":2,"v":-0.006},{"k":22,"p":3,"v":-0.009},{"k":22,"p":4,"v":-0.013},{"k":22,"p":5,"v":-0.02},{"k":22,"p":6,"v":-0.027},{"k":22,"p":7,"v":-0.033},{"k":22,"p":8,"v":-0.048},{"k":22,"p":9,"v":-0.05},{"k":22,"p":10,"v":-0.051},{"k":22,"p":11,"v":-0.058},{"k":22,"p":12,"v":-0.066},{"k":22,"p":13,"v":-0.072},{"k":22,"p":14,"v":-0.078},{"k":22,"p":15,"v":-0.085},{"k":22,"p":16,"v":-0.105},{"k":22,"p":17,"v":-0.123},{"k":22,"p":18,"v":-0.138},{"k":22,"p":19,"v":-0.153},{"k":22,"p":20,"v":-0.183},{"k":22,"p":21,"v":-0.215},{"k":22,"p":22,"v":-0.25},{"k":22,"p":23,"v":-0.263},{"k":22,"p":24,"v":-0.291},{"k":22,"p":25,"v":-0.298},{"k":22,"p":26,"v":-0.311},{"k":22,"p":27,"v":-0.316},{"k":22,"p":28,"v":-0.329},{"k":22,"p":29,"v":-0.328},{"k":22,"p":30,"v":-0.333},{"k":22,"p":31,"v":-0.326},{"k":22,"p":32,"v":-0.31},{"k":22,"p":33,"v":-0.287},{"k":22,"p":34,"v":-0.251},{"k":22,"p":35,"v":-0.234},{"k":22,"p":36,"v":-0.21},{"k":22,"p":37,"v":-0.173},{"k":22,"p":38,"v":-0.158},{"k":22,"p":39,"v":-0.143},{"k":22,"p":40,"v":-0.111},{"k":22,"p":41,"v":-0.104},{"k":22,"p":42,"v":-0.097},{"k":22,"p":43,"v":-0.085},{"k":22,"p":44,"v":-0.073},{"k":22,"p":45,"v":-0.062},{"k":22,"p":46,"v":-0.055},{"k":22,"p":47,"v":-0.05},{"k":22,"p":48,"v":-0.046},{"k":22,"p":49,"v":-0.043},{"k":22,"p":50,"v":-0.038},{"k":22,"p":51,"v":-0.032},{"k":22,"p":52,"v":-0.018},{"k":22,"p":53,"v":-0.02},{"k":22,"p":54,"v":-0.015},{"k":22,"p":55,"v":-0.012},{"k":22,"p":56,"v":-0.011},{"k":22,"p":57,"v":-0.01},{"k":22,"p":58,"v":-0.009},{"k":22,"p":59,"v":-0.008},{"k":22,"p":60,"v":-0.009},{"k":22,"p":61,"v":-0.008},{"k":22,"p":62,"v":-0.007},{"k":22,"p":63,"v":-0.008},{"k":22,"p":64,"v":-0.007},{"k":22,"p":65,"v":-0.008},{"k":22,"p":66,"v":-0.007},{"k":22,"p":67,"v":-0.007},{"k":22,"p":68,"v":-0.006},{"k":22,"p":69,"v":-0.005},
{"k":23,"p":1,"v":-0.006},{"k":23,"p":2,"v":-0.008},{"k":23,"p":3,"v":-0.01},{"k":23,"p":4,"v":-0.014},{"k":23,"p":5,"v":-0.021},{"k":23,"p":6,"v":-0.029},{"k":23,"p":7,"v":-0.035},{"k":23,"p":8,"v":-0.051},{"k":23,"p":9,"v":-0.052},{"k":23,"p":10,"v":-0.053},{"k":23,"p":11,"v":-0.06},{"k":23,"p":12,"v":-0.069},{"k":23,"p":13,"v":-0.076},{"k":23,"p":14,"v":-0.082},{"k":23,"p":15,"v":-0.088},{"k":23,"p":16,"v":-0.11},{"k":23,"p":17,"v":-0.125},{"k":23,"p":18,"v":-0.14},{"k":23,"p":19,"v":-0.158},{"k":23,"p":20,"v":-0.19},{"k":23,"p":21,"v":-0.222},{"k":23,"p":22,"v":-0.257},{"k":23,"p":23,"v":-0.276},{"k":23,"p":24,"v":-0.304},{"k":23,"p":25,"v":-0.312},{"k":23,"p":26,"v":-0.329},{"k":23,"p":27,"v":-0.336},{"k":23,"p":28,"v":-0.352},{"k":23,"p":29,"v":-0.352},{"k":23,"p":30,"v":-0.358},{"k":23,"p":31,"v":-0.355},{"k":23,"p":32,"v":-0.339},{"k":23,"p":33,"v":-0.316},{"k":23,"p":34,"v":-0.281},{"k":23,"p":35,"v":-0.266},{"k":23,"p":36,"v":-0.243},{"k":23,"p":37,"v":-0.208},{"k":23,"p":38,"v":-0.193},{"k":23,"p":39,"v":-0.17},{"k":23,"p":40,"v":-0.149},{"k":23,"p":41,"v":-0.139},{"k":23,"p":42,"v":-0.13},{"k":23,"p":43,"v":-0.108},{"k":23,"p":44,"v":-0.104},{"k":23,"p":45,"v":-0.091},{"k":23,"p":46,"v":-0.079},{"k":23,"p":47,"v":-0.068},{"k":23,"p":48,"v":-0.056},{"k":23,"p":49,"v":-0.05},{"k":23,"p":50,"v":-0.041},{"k":23,"p":51,"v":-0.036},{"k":23,"p":52,"v":-0.024},{"k":23,"p":53,"v":-0.022},{"k":23,"p":54,"v":-0.02},{"k":23,"p":55,"v":-0.017},{"k":23,"p":56,"v":-0.015},{"k":23,"p":57,"v":-0.014},{"k":23,"p":58,"v":-0.013},{"k":23,"p":59,"v":-0.012},{"k":23,"p":60,"v":-0.012},{"k":23,"p":61,"v":-0.011},{"k":23,"p":62,"v":-0.012},{"k":23,"p":63,"v":-0.011},{"k":23,"p":64,"v":-0.012},{"k":23,"p":65,"v":-0.011},{"k":23,"p":66,"v":-0.01},{"k":23,"p":67,"v":-0.01},{"k":23,"p":68,"v":-0.009},{"k":23,"p":69,"v":-0.008},
{"k":24,"p":1,"v":-0.006},{"k":24,"p":2,"v":-0.008},{"k":24,"p":3,"v":-0.011},{"k":24,"p":4,"v":-0.015},{"k":24,"p":5,"v":-0.022},{"k":24,"p":6,"v":-0.031},{"k":24,"p":7,"v":-0.037},{"k":24,"p":8,"v":-0.055},{"k":24,"p":9,"v":-0.055},{"k":24,"p":10,"v":-0.056},{"k":24,"p":11,"v":-0.062},{"k":24,"p":12,"v":-0.072},{"k":24,"p":13,"v":-0.08},{"k":24,"p":14,"v":-0.085},{"k":24,"p":15,"v":-0.09},{"k":24,"p":16,"v":-0.114},{"k":24,"p":17,"v":-0.126},{"k":24,"p":18,"v":-0.14},{"k":24,"p":19,"v":-0.16},{"k":24,"p":20,"v":-0.192},{"k":24,"p":21,"v":-0.225},{"k":24,"p":22,"v":-0.262},{"k":24,"p":23,"v":-0.292},{"k":24,"p":24,"v":-0.322},{"k":24,"p":25,"v":-0.335},{"k":24,"p":26,"v":-0.352},{"k":24,"p":27,"v":-0.362},{"k":24,"p":28,"v":-0.381},{"k":24,"p":29,"v":-0.383},{"k":24,"p":30,"v":-0.399},{"k":24,"p":31,"v":-0.4},{"k":24,"p":32,"v":-0.383},{"k":24,"p":33,"v":-0.372},{"k":24,"p":34,"v":-0.339},{"k":24,"p":35,"v":-0.329},{"k":24,"p":36,"v":-0.307},{"k":24,"p":37,"v":-0.278},{"k":24,"p":38,"v":-0.263},{"k":24,"p":39,"v":-0.243},{"k":24,"p":40,"v":-0.222},{"k":24,"p":41,"v":-0.216},{"k":24,"p":42,"v":-0.21},{"k":24,"p":43,"v":-0.19},{"k":24,"p":44,"v":-0.183},{"k":24,"p":45,"v":-0.164},{"k":24,"p":46,"v":-0.146},{"k":24,"p":47,"v":-0.129},{"k":24,"p":48,"v":-0.11},{"k":24,"p":49,"v":-0.097},{"k":24,"p":50,"v":-0.085},{"k":24,"p":51,"v":-0.068},{"k":24,"p":52,"v":-0.039},{"k":24,"p":53,"v":-0.033},{"k":24,"p":54,"v":-0.028},{"k":24,"p":55,"v":-0.024},{"k":24,"p":56,"v":-0.02},{"k":24,"p":57,"v":-0.019},{"k":24,"p":58,"v":-0.017},{"k":24,"p":59,"v":-0.016},{"k":24,"p":60,"v":-0.015},{"k":24,"p":61,"v":-0.016},{"k":24,"p":62,"v":-0.014},{"k":24,"p":63,"v":-0.015},{"k":24,"p":64,"v":-0.014},{"k":24,"p":65,"v":-0.015},{"k":24,"p":66,"v":-0.014},{"k":24,"p":67,"v":-0.013},{"k":24,"p":68,"v":-0.013},{"k":24,"p":69,"v":-0.012},
{"k":25,"p":1,"v":-0.004},{"k":25,"p":2,"v":-0.006},{"k":25,"p":3,"v":-0.01},{"k":25,"p":4,"v":-0.015},{"k":25,"p":5,"v":-0.025},{"k":25,"p":6,"v":-0.039},{"k":25,"p":7,"v":-0.043},{"k":25,"p":8,"v":-0.066},{"k":25,"p":9,"v":-0.064},{"k":25,"p":10,"v":-0.064},{"k":25,"p":11,"v":-0.07},{"k":25,"p":12,"v":-0.081},{"k":25,"p":13,"v":-0.09},{"k":25,"p":14,"v":-0.093},{"k":25,"p":15,"v":-0.09},{"k":25,"p":16,"v":-0.117},{"k":25,"p":17,"v":-0.127},{"k":25,"p":18,"v":-0.14},{"k":25,"p":19,"v":-0.16},{"k":25,"p":20,"v":-0.19},{"k":25,"p":21,"v":-0.225},{"k":25,"p":22,"v":-0.262},{"k":25,"p":23,"v":-0.3},{"k":25,"p":24,"v":-0.335},{"k":25,"p":25,"v":-0.352},{"k":25,"p":26,"v":-0.369},{"k":25,"p":27,"v":-0.383},{"k":25,"p":28,"v":-0.399},{"k":25,"p":29,"v":-0.402},{"k":25,"p":30,"v":-0.426},{"k":25,"p":31,"v":-0.423},{"k":25,"p":32,"v":-0.41},{"k":25,"p":33,"v":-0.399},{"k":25,"p":34,"v":-0.368},{"k":25,"p":35,"v":-0.358},{"k":25,"p":36,"v":-0.337},{"k":25,"p":37,"v":-0.307},{"k":25,"p":38,"v":-0.296},{"k":25,"p":39,"v":-0.278},{"k":25,"p":40,"v":-0.26},{"k":25,"p":41,"v":-0.254},{"k":25,"p":42,"v":-0.25},{"k":25,"p":43,"v":-0.227},{"k":25,"p":44,"v":-0.218},{"k":25,"p":45,"v":-0.198},{"k":25,"p":46,"v":-0.176},{"k":25,"p":47,"v":-0.156},{"k":25,"p":48,"v":-0.133},{"k":25,"p":49,"v":-0.11},{"k":25,"p":50,"v":-0.09},{"k":25,"p":51,"v":-0.07},{"k":25,"p":52,"v":-0.045},{"k":25,"p":53,"v":-0.036},{"k":25,"p":54,"v":-0.031},{"k":25,"p":55,"v":-0.027},{"k":25,"p":56,"v":-0.025},{"k":25,"p":57,"v":-0.025},{"k":25,"p":58,"v":-0.021},{"k":25,"p":59,"v":-0.017},{"k":25,"p":60,"v":-0.018},{"k":25,"p":61,"v":-0.015},{"k":25,"p":62,"v":-0.02},{"k":25,"p":63,"v":-0.017},{"k":25,"p":64,"v":-0.021},{"k":25,"p":65,"v":-0.023},{"k":25,"p":66,"v":-0.021},{"k":25,"p":67,"v":-0.021},{"k":25,"p":68,"v":-0.02},{"k":25,"p":69,"v":-0.018},
{"k":26,"p":1,"v":-0.004},{"k":26,"p":2,"v":-0.006},{"k":26,"p":3,"v":-0.009},{"k":26,"p":4,"v":-0.014},{"k":26,"p":5,"v":-0.023},{"k":26,"p":6,"v":-0.035},{"k":26,"p":7,"v":-0.041},{"k":26,"p":8,"v":-0.062},{"k":26,"p":9,"v":-0.061},{"k":26,"p":10,"v":-0.062},{"k":26,"p":11,"v":-0.068},{"k":26,"p":12,"v":-0.078},{"k":26,"p":13,"v":-0.087},{"k":26,"p":14,"v":-0.09},{"k":26,"p":15,"v":-0.088},{"k":26,"p":16,"v":-0.116},{"k":26,"p":17,"v":-0.126},{"k":26,"p":18,"v":-0.14},{"k":26,"p":19,"v":-0.161},{"k":26,"p":20,"v":-0.19},{"k":26,"p":21,"v":-0.226},{"k":26,"p":22,"v":-0.265},{"k":26,"p":23,"v":-0.303},{"k":26,"p":24,"v":-0.338},{"k":26,"p":25,"v":-0.357},{"k":26,"p":26,"v":-0.374},{"k":26,"p":27,"v":-0.388},{"k":26,"p":28,"v":-0.405},{"k":26,"p":29,"v":-0.41},{"k":26,"p":30,"v":-0.432},{"k":26,"p":31,"v":-0.428},{"k":26,"p":32,"v":-0.417},{"k":26,"p":33,"v":-0.404},{"k":26,"p":34,"v":-0.374},{"k":26,"p":35,"v":-0.365},{"k":26,"p":36,"v":-0.345},{"k":26,"p":37,"v":-0.316},{"k":26,"p":38,"v":-0.301},{"k":26,"p":39,"v":-0.281},{"k":26,"p":40,"v":-0.266},{"k":26,"p":41,"v":-0.259},{"k":26,"p":42,"v":-0.256},{"k":26,"p":43,"v":-0.231},{"k":26,"p":44,"v":-0.222},{"k":26,"p":45,"v":-0.202},{"k":26,"p":46,"v":-0.178},{"k":26,"p":47,"v":-0.155},{"k":26,"p":48,"v":-0.132},{"k":26,"p":49,"v":-0.11},{"k":26,"p":50,"v":-0.091},{"k":26,"p":51,"v":-0.068},{"k":26,"p":52,"v":-0.044},{"k":26,"p":53,"v":-0.036},{"k":26,"p":54,"v":-0.031},{"k":26,"p":55,"v":-0.025},{"k":26,"p":56,"v":-0.02},{"k":26,"p":57,"v":-0.022},{"k":26,"p":58,"v":-0.019},{"k":26,"p":59,"v":-0.016},{"k":26,"p":60,"v":-0.016},{"k":26,"p":61,"v":-0.014},{"k":26,"p":62,"v":-0.017},{"k":26,"p":63,"v":-0.013},{"k":26,"p":64,"v":-0.015},{"k":26,"p":65,"v":-0.016},{"k":26,"p":66,"v":-0.015},{"k":26,"p":67,"v":-0.014},{"k":26,"p":68,"v":-0.013},{"k":26,"p":69,"v":-0.01},{"k":26,"p":70,"v":-0.006},{"k":26,"p":71,"v":-0.002},{"k":26,"p":72,"v":0.002},{"k":26,"p":73,"v":0.008},{"k":26,"p":74,"v":0.003},{"k":26,"p":75,"v":-0.006},{"k":26,"p":76,"v":-0.011},{"k":26,"p":77,"v":-0.014},{"k":26,"p":78,"v":-0.013},{"k":26,"p":79,"v":-0.012},
{"k":27,"p":1,"v":-0.005},{"k":27,"p":2,"v":-0.007},{"k":27,"p":3,"v":-0.01},{"k":27,"p":4,"v":-0.014},{"k":27,"p":5,"v":-0.022},{"k":27,"p":6,"v":-0.031},{"k":27,"p":7,"v":-0.038},{"k":27,"p":8,"v":-0.055},{"k":27,"p":9,"v":-0.054},{"k":27,"p":10,"v":-0.055},{"k":27,"p":11,"v":-0.062},{"k":27,"p":12,"v":-0.074},{"k":27,"p":13,"v":-0.083},{"k":27,"p":14,"v":-0.087},{"k":27,"p":15,"v":-0.089},{"k":27,"p":16,"v":-0.118},{"k":27,"p":17,"v":-0.128},{"k":27,"p":18,"v":-0.142},{"k":27,"p":19,"v":-0.163},{"k":27,"p":20,"v":-0.193},{"k":27,"p":21,"v":-0.227},{"k":27,"p":22,"v":-0.264},{"k":27,"p":23,"v":-0.304},{"k":27,"p":24,"v":-0.338},{"k":27,"p":25,"v":-0.358},{"k":27,"p":26,"v":-0.376},{"k":27,"p":27,"v":-0.391},{"k":27,"p":28,"v":-0.41},{"k":27,"p":29,"v":-0.423},{"k":27,"p":30,"v":-0.448},{"k":27,"p":31,"v":-0.446},{"k":27,"p":32,"v":-0.437},{"k":27,"p":33,"v":-0.429},{"k":27,"p":34,"v":-0.407},{"k":27,"p":35,"v":-0.396},{"k":27,"p":36,"v":-0.375},{"k":27,"p":37,"v":-0.347},{"k":27,"p":38,"v":-0.331},{"k":27,"p":39,"v":-0.313},{"k":27,"p":40,"v":-0.299},{"k":27,"p":41,"v":-0.294},{"k":27,"p":42,"v":-0.292},{"k":27,"p":43,"v":-0.266},{"k":27,"p":44,"v":-0.256},{"k":27,"p":45,"v":-0.235},{"k":27,"p":46,"v":-0.211},{"k":27,"p":47,"v":-0.181},{"k":27,"p":48,"v":-0.155},{"k":27,"p":49,"v":-0.126},{"k":27,"p":50,"v":-0.104},{"k":27,"p":51,"v":-0.08},{"k":27,"p":52,"v":-0.05},{"k":27,"p":53,"v":-0.044},{"k":27,"p":54,"v":-0.04},{"k":27,"p":55,"v":-0.028},{"k":27,"p":56,"v":-0.026},{"k":27,"p":57,"v":-0.021},{"k":27,"p":58,"v":-0.018},{"k":27,"p":59,"v":-0.016},{"k":27,"p":60,"v":-0.014},{"k":27,"p":61,"v":-0.013},{"k":27,"p":62,"v":-0.012},{"k":27,"p":63,"v":-0.01},{"k":27,"p":64,"v":-0.012},{"k":27,"p":65,"v":-0.013},{"k":27,"p":66,"v":-0.012},{"k":27,"p":67,"v":-0.011},{"k":27,"p":68,"v":-0.01},{"k":27,"p":69,"v":-0.007},{"k":27,"p":70,"v":-0.004},{"k":27,"p":71,"v":0},{"k":27,"p":72,"v":0.003},{"k":27,"p":73,"v":0.009},{"k":27,"p":74,"v":0.004},{"k":27,"p":75,"v":-0.004},{"k":27,"p":76,"v":-0.007},{"k":27,"p":77,"v":-0.009},{"k":27,"p":78,"v":-0.007},{"k":27,"p":79,"v":-0.006},
{"k":28,"p":1,"v":-0.006},{"k":28,"p":2,"v":-0.008},{"k":28,"p":3,"v":-0.011},{"k":28,"p":4,"v":-0.015},{"k":28,"p":5,"v":-0.023},{"k":28,"p":6,"v":-0.032},{"k":28,"p":7,"v":-0.039},{"k":28,"p":8,"v":-0.057},{"k":28,"p":9,"v":-0.056},{"k":28,"p":10,"v":-0.057},{"k":28,"p":11,"v":-0.063},{"k":28,"p":12,"v":-0.074},{"k":28,"p":13,"v":-0.084},{"k":28,"p":14,"v":-0.087},{"k":28,"p":15,"v":-0.089},{"k":28,"p":16,"v":-0.119},{"k":28,"p":17,"v":-0.128},{"k":28,"p":18,"v":-0.142},{"k":28,"p":19,"v":-0.164},{"k":28,"p":20,"v":-0.194},{"k":28,"p":21,"v":-0.228},{"k":28,"p":22,"v":-0.263},{"k":28,"p":23,"v":-0.304},{"k":28,"p":24,"v":-0.337},{"k":28,"p":25,"v":-0.359},{"k":28,"p":26,"v":-0.377},{"k":28,"p":27,"v":-0.392},{"k":28,"p":28,"v":-0.41},{"k":28,"p":29,"v":-0.426},{"k":28,"p":30,"v":-0.452},{"k":28,"p":31,"v":-0.455},{"k":28,"p":32,"v":-0.445},{"k":28,"p":33,"v":-0.436},{"k":28,"p":34,"v":-0.412},{"k":28,"p":35,"v":-0.401},{"k":28,"p":36,"v":-0.381},{"k":28,"p":37,"v":-0.353},{"k":28,"p":38,"v":-0.337},{"k":28,"p":39,"v":-0.32},{"k":28,"p":40,"v":-0.306},{"k":28,"p":41,"v":-0.303},{"k":28,"p":42,"v":-0.302},{"k":28,"p":43,"v":-0.276},{"k":28,"p":44,"v":-0.264},{"k":28,"p":45,"v":-0.244},{"k":28,"p":46,"v":-0.22},{"k":28,"p":47,"v":-0.19},{"k":28,"p":48,"v":-0.163},{"k":28,"p":49,"v":-0.134},{"k":28,"p":50,"v":-0.108},{"k":28,"p":51,"v":-0.083},{"k":28,"p":52,"v":-0.05},{"k":28,"p":53,"v":-0.043},{"k":28,"p":54,"v":-0.038},{"k":28,"p":55,"v":-0.03},{"k":28,"p":56,"v":-0.026},{"k":28,"p":57,"v":-0.02},{"k":28,"p":58,"v":-0.017},{"k":28,"p":59,"v":-0.014},{"k":28,"p":60,"v":-0.012},{"k":28,"p":61,"v":-0.011},{"k":28,"p":62,"v":-0.01},{"k":28,"p":63,"v":-0.009},{"k":28,"p":64,"v":-0.01},{"k":28,"p":65,"v":-0.01},{"k":28,"p":66,"v":-0.009},{"k":28,"p":67,"v":-0.008},{"k":28,"p":68,"v":-0.007},{"k":28,"p":69,"v":-0.005},{"k":28,"p":70,"v":-0.002},{"k":28,"p":71,"v":0.001},{"k":28,"p":72,"v":0.004},{"k":28,"p":73,"v":0.01},{"k":28,"p":74,"v":0.005},{"k":28,"p":75,"v":-0.003},{"k":28,"p":76,"v":-0.005},{"k":28,"p":77,"v":-0.006},{"k":28,"p":78,"v":-0.005},{"k":28,"p":79,"v":-0.004},
{"k":29,"p":1,"v":-0.007},{"k":29,"p":2,"v":-0.009},{"k":29,"p":3,"v":-0.011},{"k":29,"p":4,"v":-0.016},{"k":29,"p":5,"v":-0.024},{"k":29,"p":6,"v":-0.033},{"k":29,"p":7,"v":-0.04},{"k":29,"p":8,"v":-0.058},{"k":29,"p":9,"v":-0.057},{"k":29,"p":10,"v":-0.058},{"k":29,"p":11,"v":-0.064},{"k":29,"p":12,"v":-0.075},{"k":29,"p":13,"v":-0.085},{"k":29,"p":14,"v":-0.088},{"k":29,"p":15,"v":-0.09},{"k":29,"p":16,"v":-0.12},{"k":29,"p":17,"v":-0.129},{"k":29,"p":18,"v":-0.143},{"k":29,"p":19,"v":-0.165},{"k":29,"p":20,"v":-0.195},{"k":29,"p":21,"v":-0.229},{"k":29,"p":22,"v":-0.264},{"k":29,"p":23,"v":-0.305},{"k":29,"p":24,"v":-0.338},{"k":29,"p":25,"v":-0.36},{"k":29,"p":26,"v":-0.378},{"k":29,"p":27,"v":-0.393},{"k":29,"p":28,"v":-0.411},{"k":29,"p":29,"v":-0.428},{"k":29,"p":30,"v":-0.455},{"k":29,"p":31,"v":-0.46},{"k":29,"p":32,"v":-0.449},{"k":29,"p":33,"v":-0.438},{"k":29,"p":34,"v":-0.415},{"k":29,"p":35,"v":-0.405},{"k":29,"p":36,"v":-0.385},{"k":29,"p":37,"v":-0.358},{"k":29,"p":38,"v":-0.342},{"k":29,"p":39,"v":-0.326},{"k":29,"p":40,"v":-0.312},{"k":29,"p":41,"v":-0.308},{"k":29,"p":42,"v":-0.307},{"k":29,"p":43,"v":-0.284},{"k":29,"p":44,"v":-0.27},{"k":29,"p":45,"v":-0.249},{"k":29,"p":46,"v":-0.225},{"k":29,"p":47,"v":-0.195},{"k":29,"p":48,"v":-0.167},{"k":29,"p":49,"v":-0.138},{"k":29,"p":50,"v":-0.111},{"k":29,"p":51,"v":-0.085},{"k":29,"p":52,"v":-0.051},{"k":29,"p":53,"v":-0.045},{"k":29,"p":54,"v":-0.04},{"k":29,"p":55,"v":-0.031},{"k":29,"p":56,"v":-0.027},{"k":29,"p":57,"v":-0.022},{"k":29,"p":58,"v":-0.019},{"k":29,"p":59,"v":-0.016},{"k":29,"p":60,"v":-0.014},{"k":29,"p":61,"v":-0.013},{"k":29,"p":62,"v":-0.012},{"k":29,"p":63,"v":-0.011},{"k":29,"p":64,"v":-0.012},{"k":29,"p":65,"v":-0.012},{"k":29,"p":66,"v":-0.011},{"k":29,"p":67,"v":-0.01},{"k":29,"p":68,"v":-0.009},{"k":29,"p":69,"v":-0.007},{"k":29,"p":70,"v":-0.004},{"k":29,"p":71,"v":0},{"k":29,"p":72,"v":0.003},{"k":29,"p":73,"v":0.009},{"k":29,"p":74,"v":0.004},{"k":29,"p":75,"v":-0.004},{"k":29,"p":76,"v":-0.006},{"k":29,"p":77,"v":-0.008},{"k":29,"p":78,"v":-0.006},{"k":29,"p":79,"v":-0.005},
{"k":30,"p":1,"v":-0.008},{"k":30,"p":2,"v":-0.01},{"k":30,"p":3,"v":-0.012},{"k":30,"p":4,"v":-0.016},{"k":30,"p":5,"v":-0.024},{"k":30,"p":6,"v":-0.033},{"k":30,"p":7,"v":-0.04},{"k":30,"p":8,"v":-0.059},{"k":30,"p":9,"v":-0.057},{"k":30,"p":10,"v":-0.058},{"k":30,"p":11,"v":-0.063},{"k":30,"p":12,"v":-0.074},{"k":30,"p":13,"v":-0.085},{"k":30,"p":14,"v":-0.088},{"k":30,"p":15,"v":-0.09},{"k":30,"p":16,"v":-0.12},{"k":30,"p":17,"v":-0.129},{"k":30,"p":18,"v":-0.143},{"k":30,"p":19,"v":-0.165},{"k":30,"p":20,"v":-0.195},{"k":30,"p":21,"v":-0.228},{"k":30,"p":22,"v":-0.262},{"k":30,"p":23,"v":-0.305},{"k":30,"p":24,"v":-0.338},{"k":30,"p":25,"v":-0.36},{"k":30,"p":26,"v":-0.378},{"k":30,"p":27,"v":-0.393},{"k":30,"p":28,"v":-0.41},{"k":30,"p":29,"v":-0.428},{"k":30,"p":30,"v":-0.458},{"k":30,"p":31,"v":-0.462},{"k":30,"p":32,"v":-0.452},{"k":30,"p":33,"v":-0.44},{"k":30,"p":34,"v":-0.418},{"k":30,"p":35,"v":-0.408},{"k":30,"p":36,"v":-0.388},{"k":30,"p":37,"v":-0.362},{"k":30,"p":38,"v":-0.347},{"k":30,"p":39,"v":-0.33},{"k":30,"p":40,"v":-0.318},{"k":30,"p":41,"v":-0.313},{"k":30,"p":42,"v":-0.312},{"k":30,"p":43,"v":-0.29},{"k":30,"p":44,"v":-0.277},{"k":30,"p":45,"v":-0.255},{"k":30,"p":46,"v":-0.23},{"k":30,"p":47,"v":-0.2},{"k":30,"p":48,"v":-0.171},{"k":30,"p":49,"v":-0.142},{"k":30,"p":50,"v":-0.114},{"k":30,"p":51,"v":-0.088},{"k":30,"p":52,"v":-0.053},{"k":30,"p":53,"v":-0.046},{"k":30,"p":54,"v":-0.042},{"k":30,"p":55,"v":-0.033},{"k":30,"p":56,"v":-0.028},{"k":30,"p":57,"v":-0.024},{"k":30,"p":58,"v":-0.02},{"k":30,"p":59,"v":-0.017},{"k":30,"p":60,"v":-0.015},{"k":30,"p":61,"v":-0.013},{"k":30,"p":62,"v":-0.012},{"k":30,"p":63,"v":-0.011},{"k":30,"p":64,"v":-0.011},{"k":30,"p":65,"v":-0.012},{"k":30,"p":66,"v":-0.011},{"k":30,"p":67,"v":-0.01},{"k":30,"p":68,"v":-0.008},{"k":30,"p":69,"v":-0.006},{"k":30,"p":70,"v":-0.002},{"k":30,"p":71,"v":0.002},{"k":30,"p":72,"v":0.005},{"k":30,"p":73,"v":0.012},{"k":30,"p":74,"v":0.007},{"k":30,"p":75,"v":-0.002},{"k":30,"p":76,"v":-0.004},{"k":30,"p":77,"v":-0.005},{"k":30,"p":78,"v":-0.004},{"k":30,"p":79,"v":-0.003}
],
"bounds":[{"b":14.75},{"b":25.5},{"b":27.8},{"b":38.63},{"b":40.66},{"b":51.42},{"b":53.82}],
"panels":[
{"t":"LW B2","x1":18.16,"x2":23.39,"y1":-0.7546,"y2":-0.788,"tx":20.5,"ty":-0.7735},
{"t":"LW B3","x1":30.2,"x2":35.4,"y1":-0.7546,"y2":-0.788,"tx":32.55,"ty":-0.7735},
{"t":"LW B4","x1":42.97,"x2":48.16,"y1":-0.753,"y2":-0.7854,"tx":45.3,"ty":-0.771},
{"t":"LW B5","x1":57.22,"x2":62.45,"y1":-0.7503,"y2":-0.7836,"tx":59.6,"ty":-0.768}
]
},
"resolve":{"axis":{"x":"independent","y":"independent"}},
"layer":[
{
"data":{"name":"series"},
"transform":[{"filter":"datum.k == 0"}],
"mark":{"type":"line","strokeWidth":7,"interpolate":"monotone","strokeCap":"round","strokeJoin":"round","clip":true},
"encoding":{
"x":{"field":"p","type":"quantitative","scale":{"domain":[1,88],"nice":false,"zero":false},
"axis":{"orient":"bottom","offset":-1029.13,"zindex":1,"values":[1,2,3,4,5,6,7,8,9,10,11,12,13,14,15,16,17,18,19,20,21,22,23,24,25,26,27,28,29,30,31,32,33,34,35,36,37,38,39,40,41,42,43,44,45,46,47,48,49,50,51,52,53,54,55,56,57,58,59,60,61,62,63,64,65,66,67,68,69,70,71,72,73,74,75,76,77,78,79,80,81,82,83,84,85,86,87,88],
"labelExpr":"datum.value % 2 == 1 ? (datum.value < 10 ? 'S0' : 'S') + datum.value : ''",
"labelAngle":-90,"labelAlign":"right","labelBaseline":"middle","labelFont":"Liberation Sans","labelFontSize":26,"labelColor":"black","labelPadding":2,"labelOverlap":false,"labelFlush":false,"labelBound":false,
"domainColor":"black","domainWidth":4,"tickColor":"black","tickWidth":2,"tickSize":6,"grid":false,"title":null}},
"y":{"field":"v","type":"quantitative","scale":{"domain":[-0.9,0.02],"nice":false,"zero":false},
"axis":{"orient":"right","values":[-0.9,-0.8,-0.7,-0.6,-0.5,-0.4,-0.3,-0.2,-0.1,0],"labelExpr":"replace(format(datum.value, '.3f'), '\u2212', '-')","labelFont":"DejaVu Sans","labelFontSize":21,"labelColor":"black","labelAlign":"right","labelPadding":74,"tickColor":"black","tickSize":7,"domain":false,"grid":true,"gridColor":"black","gridWidth":1,"title":null}},
"color":{"field":"k","type":"nominal",
"scale":{"domain":[0,1,2,3,4,5,6,7,8,9,10,11,12,13,14,15,16,17,18,19,20,21,22,23,24,25,26,27,28,29,30],
"range":["#C3D69B","#2F5A8C","#71893A","#5C4580","#2C8597","#C36A2D","#3F72B5","#B8403D","#92B550","#7B57A4","#3B9DB7","#EB8A3C","#4A7FC4","#C34845","#96BA55","#4BACC6","#F59445","#6F93CC","#CD716F","#AECB7C","#9A85B8","#70C0D6","#F9AC6E","#9FB7DF","#DBA09F","#4680CB","#8E302E","#7551A2","#9ACEDE","#FBC29B","#BDCDE6"]},
"legend":{"orient":"none","legendX":1219.5,"legendY":163,"direction":"vertical","title":null,"fillColor":"white","strokeColor":"#404040","padding":6,"symbolLimit":50,"symbolType":"stroke","symbolSize":1600,"symbolStrokeWidth":4,"symbolOffset":6,"clipHeight":20,"rowPadding":8.2,"labelFont":"Liberation Sans","labelFontSize":14.2,"labelColor":"black","labelLimit":400,"labelOffset":5,
"labelExpr":"['Predicted Total Subsidence after LWB4 (m)','12/12/2016 (LWB2 face at chainage 211m)','15/12/2016 (LWB2 face at chainage 200m)','19/12/2016 (LWB2 face at chainage 170m)','22/12/2016 (LWB2 face at chainage 146m)','5/01/2017 (LWB2 face at chainage 92m)','10/01/2017 (LWB2 face at chainage 50m)','12/01/2017 (LWB2 face at chainage 38m)','16/01/2017 (LWB2 face at chainage 15m)','20/01/2017 (LWB2 face at chainage 11m)','23/1/2017','27/1/2017','30/1/2017','6/2/2017','2/05/2017 (LWB2 face at chainage 0m)','12/07/2017 (LWB3 face at chainage 290m)','26/07/2017 (LWB3 face at chainage 186m)','9/08/2017 LWB3 face at chainage 70m)','23/08/2017 LWB3 face at chainage 5m)','6/09/2017 LWB3 face at chainage 0m)','20/09/2017 LWB3 face at chainage 0m)','14/12/2017 LWB4 face at chainage 612m)','5/01/2018 LWB4 face at chainage 544m)','17/01/2018 LWB4 face at chainage 440m)','1/02/2018 LWB4 face at chainage 345m)','15/02/2018 LWB4 face at chainage 337m)','7/03/2018 LWB4 face at chainage 332m)','28/03/2018 LWB4 face at chainage 303m)','12/04/2018 (LWB4 face at chainage 303m)','3/05/2018 (LWB4 face at chainage 303m)','16/05/2018 (LWB4 face at chainage 301m)'][datum.value]"}}
}
},
{
"data":{"name":"series"},
"transform":[{"filter":"datum.k > 0"}],
"mark":{"type":"line","strokeWidth":3.5,"strokeCap":"round","strokeJoin":"round","clip":true},
"encoding":{
"x":{"field":"p","type":"quantitative","scale":{"domain":[1,88],"nice":false,"zero":false},"axis":null},
"y":{"field":"v","type":"quantitative","scale":{"domain":[-0.9,0.02],"nice":false,"zero":false},"axis":null},
"color":{"field":"k","type":"nominal",
"scale":{"domain":[0,1,2,3,4,5,6,7,8,9,10,11,12,13,14,15,16,17,18,19,20,21,22,23,24,25,26,27,28,29,30],
"range":["#C3D69B","#2F5A8C","#71893A","#5C4580","#2C8597","#C36A2D","#3F72B5","#B8403D","#92B550","#7B57A4","#3B9DB7","#EB8A3C","#4A7FC4","#C34845","#96BA55","#4BACC6","#F59445","#6F93CC","#CD716F","#AECB7C","#9A85B8","#70C0D6","#F9AC6E","#9FB7DF","#DBA09F","#4680CB","#8E302E","#7551A2","#9ACEDE","#FBC29B","#BDCDE6"]},
"legend":{"orient":"none","legendX":1219.5,"legendY":163,"direction":"vertical","title":null,"fillColor":"white","strokeColor":"#404040","padding":6,"symbolLimit":50,"symbolType":"stroke","symbolSize":1600,"symbolStrokeWidth":4,"symbolOffset":6,"clipHeight":20,"rowPadding":8.2,"labelFont":"Liberation Sans","labelFontSize":14.2,"labelColor":"black","labelLimit":400,"labelOffset":5,
"labelExpr":"['Predicted Total Subsidence after LWB4 (m)','12/12/2016 (LWB2 face at chainage 211m)','15/12/2016 (LWB2 face at chainage 200m)','19/12/2016 (LWB2 face at chainage 170m)','22/12/2016 (LWB2 face at chainage 146m)','5/01/2017 (LWB2 face at chainage 92m)','10/01/2017 (LWB2 face at chainage 50m)','12/01/2017 (LWB2 face at chainage 38m)','16/01/2017 (LWB2 face at chainage 15m)','20/01/2017 (LWB2 face at chainage 11m)','23/1/2017','27/1/2017','30/1/2017','6/2/2017','2/05/2017 (LWB2 face at chainage 0m)','12/07/2017 (LWB3 face at chainage 290m)','26/07/2017 (LWB3 face at chainage 186m)','9/08/2017 LWB3 face at chainage 70m)','23/08/2017 LWB3 face at chainage 5m)','6/09/2017 LWB3 face at chainage 0m)','20/09/2017 LWB3 face at chainage 0m)','14/12/2017 LWB4 face at chainage 612m)','5/01/2018 LWB4 face at chainage 544m)','17/01/2018 LWB4 face at chainage 440m)','1/02/2018 LWB4 face at chainage 345m)','15/02/2018 LWB4 face at chainage 337m)','7/03/2018 LWB4 face at chainage 332m)','28/03/2018 LWB4 face at chainage 303m)','12/04/2018 (LWB4 face at chainage 303m)','3/05/2018 (LWB4 face at chainage 303m)','16/05/2018 (LWB4 face at chainage 301m)'][datum.value]"}}
}
},
{
"data":{"name":"bounds"},
"mark":{"type":"rule","color":"#1A1A1A","strokeWidth":1.5},
"encoding":{
"x":{"field":"b","type":"quantitative","scale":{"domain":[1,88],"nice":false,"zero":false},
"axis":{"orient":"bottom","labels":false,"ticks":false,"domain":false,"grid":false,"title":"MONITORING POINT NAMES (Road Spikes)","titleFont":"Liberation Sans","titleFontSize":24,"titleFontWeight":"bold","titleColor":"black","titleX":844,"titleY":98,"titleAlign":"center","titleBaseline":"middle","titleAnchor":"middle"}},
"y":{"datum":0,"type":"quantitative","scale":{"domain":[-0.9,0.02],"nice":false,"zero":false},
"axis":{"orient":"left","labels":false,"ticks":false,"domain":false,"grid":false,"title":"Diff h (m)","titleFont":"Liberation Sans","titleFontSize":22,"titleFontWeight":"bold","titleColor":"black","titleAngle":-90,"titleX":-67,"titleY":566,"titleAlign":"center","titleBaseline":"middle","titleAnchor":"middle"}},
"y2":{"datum":-0.9}
}
},
{
"data":{"name":"panels"},
"mark":{"type":"rect","fill":"white","stroke":"#D0D0D0","strokeWidth":1},
"encoding":{
"x":{"field":"x1","type":"quantitative","scale":{"domain":[1,88],"nice":false,"zero":false},"axis":null},
"x2":{"field":"x2"},
"y":{"field":"y1","type":"quantitative","scale":{"domain":[-0.9,0.02],"nice":false,"zero":false},"axis":null},
"y2":{"field":"y2"}
}
},
{
"data":{"name":"panels"},
"mark":{"type":"text","font":"DejaVu Sans","fontSize":17,"color":"black","align":"center","baseline":"middle"},
"encoding":{
"x":{"field":"tx","type":"quantitative","scale":{"domain":[1,88],"nice":false,"zero":false},"axis":null},
"y":{"field":"ty","type":"quantitative","scale":{"domain":[-0.9,0.02],"nice":false,"zero":false},"axis":null},
"text":{"field":"t"}
}
}
]
}
